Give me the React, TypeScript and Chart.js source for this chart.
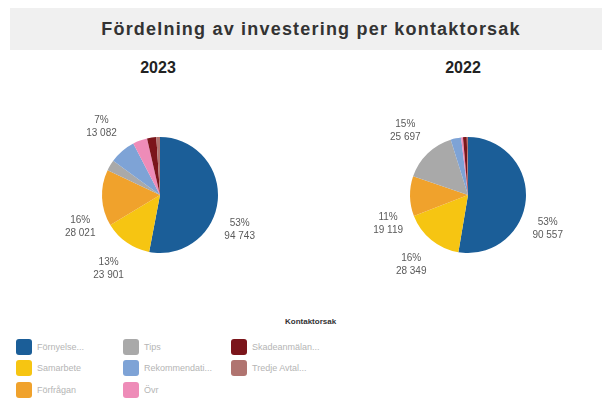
import React, { useEffect, useRef } from "react";
import { Chart, registerables } from "chart.js";

Chart.register(...registerables);

const categories = [
  "Förnyelse",
  "Samarbete",
  "Förfrågan",
  "Tips",
  "Rekommendation",
  "Övrigt",
  "Skadeanmälan",
  "Tredje part Avtal",
];
const legendLabels = [
  "Förnyelse...",
  "Samarbete",
  "Förfrågan",
  "Tips",
  "Rekommendati...",
  "Övr",
  "Skadeanmälan...",
  "Tredje Avtal...",
];
const colors = [
  "#1b5e98",
  "#f6c512",
  "#f0a22c",
  "#a9a9a9",
  "#7ea3d6",
  "#ee8cb8",
  "#7b151b",
  "#b07470",
];
const values2023 = [94743, 23901, 28021, 5400, 13082, 7200, 4600, 1813];
const values2022 = [90557, 28349, 19119, 25697, 5000, 900, 1800, 578];
const years = ["2023", "2022"];

const fmt = (v: number) => String(v).replace(/\B(?=(\d{3})+(?!\d))/g, " ");

const outLabels = {
  id: "outLabels",
  afterDatasetsDraw(chart: any) {
    const ctx = chart.ctx;
    const meta = chart.getDatasetMeta(0);
    const data: number[] = chart.data.datasets[0].data;
    const total = data.reduce((a, b) => a + b, 0);
    ctx.save();
    ctx.font = "10px 'Liberation Sans', Arial, sans-serif";
    ctx.fillStyle = "#5a5a5a";
    ctx.textAlign = "center";
    ctx.textBaseline = "middle";
    meta.data.forEach((arc: any, i: number) => {
      const pct = data[i] / total;
      if (pct < 0.06) return;
      const p = arc.getProps(["x", "y", "startAngle", "endAngle", "outerRadius"], true);
      const mid = (p.startAngle + p.endAngle) / 2;
      const R = p.outerRadius * 1.55;
      let dx = Math.cos(mid) * R;
      let dy = Math.sin(mid) * R;
      const f = Math.max(0, (Math.abs(Math.cos(mid)) - 0.7) / 0.3);
      dx -= Math.sign(dx) * 10 * f;
      dy += 27 * f;
      ctx.fillText(Math.round(pct * 100) + "%", p.x + dx, p.y + dy - 6.5);
      ctx.fillText(fmt(data[i]), p.x + dx, p.y + dy + 6.5);
    });
    ctx.restore();
  },
};

function Pie({ values, left, width, padX }: { values: number[]; left: number; width: number; padX: number }) {
  const ref = useRef<HTMLCanvasElement>(null);
  useEffect(() => {
    const chart = new Chart(ref.current as HTMLCanvasElement, {
      type: "pie",
      data: {
        labels: categories,
        datasets: [{ data: values, backgroundColor: colors, borderWidth: 0 }],
      },
      options: {
        animation: false,
        responsive: false,
        devicePixelRatio: 1,
        layout: { padding: { left: padX, right: padX, top: 62, bottom: 62 } },
        plugins: { legend: { display: false }, tooltip: { enabled: false } },
      },
      plugins: [outLabels],
    } as any);
    return () => chart.destroy();
  }, []);
  return (
    <canvas
      ref={ref}
      width={width}
      height={240}
      style={{ position: "absolute", left, top: 75, width, height: 240 }}
    />
  );
}

export default function App() {
  const cols = [16, 123, 231];
  const rows = [339, 360, 382];
  const order = [0, 1, 2, 3, 4, 5, 6, 7];
  return (
    <div
      style={{
        position: "fixed",
        left: 0,
        top: 0,
        width: 611,
        height: 403,
        background: "#ffffff",
        fontFamily: "'Liberation Sans', Arial, sans-serif",
        overflow: "hidden",
      }}
    >
      <div
        style={{
          position: "absolute",
          left: 10,
          top: 8,
          width: 582,
          paddingLeft: 10,
          height: 42,
          background: "#f0f0f0",
          textAlign: "center",
          lineHeight: "42px",
          fontWeight: "bold",
          fontSize: 18,
          letterSpacing: "1.2px",
          color: "#333",
        }}
      >
        Fördelning av investering per kontaktorsak
      </div>
      <div style={{ position: "absolute", left: 108, top: 60, width: 100, textAlign: "center", fontWeight: "bold", fontSize: 16, lineHeight: "16px", color: "#222" }}>
        {years[0]}
      </div>
      <div style={{ position: "absolute", left: 413, top: 60, width: 100, textAlign: "center", fontWeight: "bold", fontSize: 16, lineHeight: "16px", color: "#222" }}>
        {years[1]}
      </div>
      <Pie values={values2023} left={0} width={320} padX={102} />
      <Pie values={values2022} left={328} width={280} padX={82} />
      <div style={{ position: "absolute", left: 285, top: 317, fontWeight: "bold", fontSize: 8, lineHeight: "10px", color: "#333" }}>
        Kontaktorsak
      </div>
      {order.map((i) => {
        const c = Math.floor(i / 3);
        const r = i % 3;
        return (
          <div key={i} style={{ position: "absolute", left: cols[c], top: rows[r], height: 16, display: "flex", alignItems: "center" }}>
            <div style={{ width: 16, height: 16, borderRadius: 3, background: colors[i] }} />
            <div style={{ marginLeft: 5, fontSize: 9, color: "#b5b5b5", whiteSpace: "nowrap" }}>{legendLabels[i]}</div>
          </div>
        );
      })}
    </div>
  );
}
